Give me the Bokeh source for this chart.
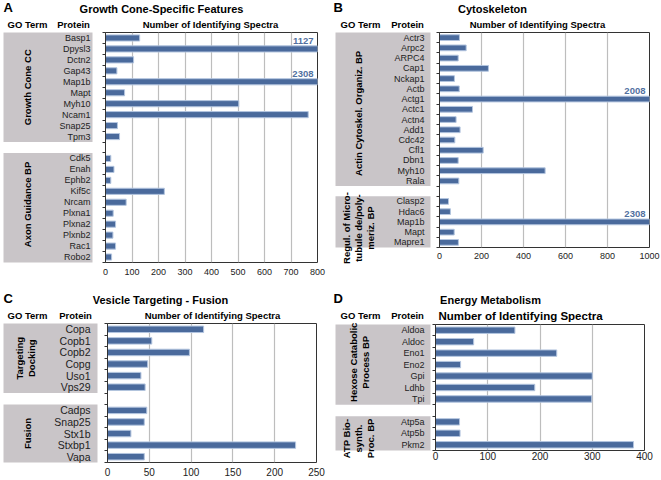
from bokeh.plotting import figure
from bokeh.layouts import row, column
from bokeh.models import Range1d, FixedTicker
from bokeh.embed import file_html
from bokeh.resources import INLINE
from bokeh.core.properties import value

# ---------------- DATA ----------------
# Panel A
A_letter = "A"
A_title = "Growth Cone-Specific Features"
A_group_labels = ["Growth Cone CC", "Axon Guidance BP"]
A_cc_proteins = ["Basp1", "Dpysl3", "Dctn2", "Gap43", "Map1b", "Mapt", "Myh10", "Ncam1", "Snap25", "Tpm3"]
A_cc_values = [129, 1127, 106, 43, 2308, 72, 503, 765, 45, 53]
A_ag_proteins = ["Cdk5", "Enah", "Ephb2", "Kif5c", "Nrcam", "Plxna1", "Plxna2", "Plxnb2", "Rac1", "Robo2"]
A_ag_values = [20, 32, 20, 222, 78, 29, 38, 28, 38, 23]
A_ticks = [0, 100, 200, 300, 400, 500, 600, 700, 800]

# Panel B
B_letter = "B"
B_title = "Cytoskeleton"
B_group_labels = ["Actin Cytoskel. Organiz. BP", "Regul. of Micro-\ntubule de/poly-\nmeriz. BP"]
B_actin_proteins = ["Actr3", "Arpc2", "ARPC4", "Cap1", "Nckap1", "Actb", "Actg1", "Actc1", "Actn4",
                    "Add1", "Cdc42", "Cfl1", "Dbn1", "Myh10", "Rala"]
B_actin_values = [95, 127, 89, 233, 71, 94, 2008, 157, 79, 98, 73, 208, 89, 503, 92]
B_mt_proteins = ["Clasp2", "Hdac6", "Map1b", "Mapt", "Mapre1"]
B_mt_values = [43, 52, 2308, 70, 90]
B_ticks = [0, 200, 400, 600, 800, 1000]

# Panel C
C_letter = "C"
C_title = "Vesicle Targeting - Fusion"
C_group_labels = ["Targeting\nDocking", "Fusion"]
C_td_proteins = ["Copa", "Copb1", "Copb2", "Copg", "Uso1", "Vps29"]
C_td_values = [115, 53, 98, 48, 40, 45]
C_fu_proteins = ["Cadps", "Snap25", "Stx1b", "Stxbp1", "Vapa"]
C_fu_values = [47, 44, 28, 225, 44]
C_ticks = [0, 50, 100, 150, 200, 250]

# Panel D
D_letter = "D"
D_title = "Energy Metabolism"
D_group_labels = ["Hexose Catabolic\nProcess BP", "ATP Bio-\nsynth.\nProc. BP"]
D_hx_proteins = ["Aldoa", "Aldoc", "Eno1", "Eno2", "Gpi", "Ldhb", "Tpi"]
D_hx_values = [152, 73, 232, 48, 300, 190, 299]
D_atp_proteins = ["Atp5a", "Atp5b", "Pkm2"]
D_atp_values = [46, 47, 379]
D_ticks = [0, 100, 200, 300, 400]

HEAD_GO = "GO Term"
HEAD_PROT = "Protein"
HEAD_NUM = "Number of Identifying Spectra"

# ---------------- STYLE ----------------
FONT = "Liberation Sans"
BAR = "#4A6A9C"
BAR_EDGE = "#B3C5DF"
GRAY = "#C9C5C8"
GRID = "#BDBDBD"
VAL_COLOR = "#52719F"


def bare(fig):
    fig.grid.visible = False
    fig.outline_line_color = None
    return fig


def build_rows(groups):
    prots, vals, ys, spans = [], [], [], []
    i = 0
    for gi, (prot_list, val_list) in enumerate(groups):
        if gi > 0:
            i += 1
        start = i
        for pr, v in zip(prot_list, val_list):
            prots.append(pr)
            vals.append(v)
            ys.append(i)
            i += 1
        spans.append((start, i - 1))
    return prots, vals, ys, spans, i


def make_panel(letter, title, group_labels, groups, ticks, st):
    prots, vals, ys, spans, n = build_rows(groups)
    xmax = ticks[-1]
    W = st["lw"] + st["bw"]
    hh = st["hh"]

    # header strip
    h = figure(width=W, height=hh, x_range=Range1d(0, W), y_range=Range1d(hh, 0),
               x_axis_location=None, y_axis_location=None, min_border=0,
               output_backend="svg", toolbar_location=None, frame_align=False)
    bare(h)
    h.text(x=[st["let_x"]], y=[st["let_y"]], text=[letter], text_align="left", text_baseline="middle",
           text_font=value(FONT), text_font_style="bold", text_font_size="13px", text_color="black")
    h.text(x=[st["tit_x"]], y=[st["tit_y"]], text=[title], text_align="center", text_baseline="middle",
           text_font=value(FONT), text_font_style="bold", text_font_size="11px", text_color="black")
    h.text(x=[st["go_x"], st["pr_x"]], y=[st["hd_y"], st["hd_y"]], text=[HEAD_GO, HEAD_PROT],
           text_align="center", text_baseline="middle",
           text_font=value(FONT), text_font_style="bold", text_font_size="9.5px", text_color="black")
    h.text(x=[st["num_x"]], y=[st["hd_y"]], text=[HEAD_NUM], text_align="center", text_baseline="middle",
           text_font=value(FONT), text_font_style="bold", text_font_size=st["num_fs"], text_color="black")

    # bar figure
    b = figure(width=st["bw"], height=st["ph"], x_range=Range1d(0, xmax), y_range=Range1d(n - 0.5, -0.5),
               min_border_left=st["bl"], min_border_right=st["br"], min_border_top=st["bt"],
               min_border_bottom=st["bb"], output_backend="svg", toolbar_location=None, frame_align=False)
    b.hbar(y=ys, left=0, right=vals, height=0.56, fill_color=BAR, line_color=BAR_EDGE, line_width=1)
    xa = b.xaxis[0]
    xa.ticker = FixedTicker(ticks=ticks)
    xa.axis_line_color = None
    xa.major_tick_line_color = None
    xa.major_tick_out = 0
    xa.major_tick_in = 0
    xa.minor_tick_line_color = None
    xa.major_label_text_font = FONT
    xa.major_label_text_font_size = st["tick_fs"]
    xa.major_label_text_color = "#222222"
    xa.major_label_standoff = st["standoff"]
    ya = b.yaxis[0]
    bticks = [k - 0.5 for k in range(n + 1)]
    ya.ticker = FixedTicker(ticks=bticks)
    ya.major_label_overrides = {t: "" for t in bticks}
    ya.major_label_standoff = 0
    ya.major_tick_in = 0
    ya.major_tick_out = 3
    ya.minor_tick_line_color = None
    ya.axis_line_color = "#333333"
    ya.major_tick_line_color = "#333333"
    b.xgrid.ticker = FixedTicker(ticks=ticks)
    b.xgrid.grid_line_color = GRID
    b.xgrid.grid_line_width = 1.2
    b.ygrid.grid_line_color = None
    b.outline_line_color = "#333333"

    over = [(y, v) for y, v in zip(ys, vals) if v > xmax]
    if over:
        b.text(x=[xmax] * len(over), y=[y - 0.75 for y, _ in over], text=[str(v) for _, v in over],
               text_align="right", text_baseline="middle", x_offset=-4,
               text_font=value(FONT), text_font_style="bold", text_font_size="9.5px", text_color=VAL_COLOR)

    # label figure: full-height frame, same rows-per-pixel as the bar frame
    rpp = n / (st["ph"] - st["bt"] - st["bb"])
    l_range = Range1d(n - 0.5 + st["bb"] * rpp, -0.5 - st["bt"] * rpp)
    l = figure(width=st["lw"], height=st["ph"], x_range=Range1d(0, st["lw"]), y_range=l_range,
               x_axis_location=None, y_axis_location=None, min_border=0,
               output_backend="svg", toolbar_location=None, frame_align=False)
    bare(l)
    l.quad(left=st["box_l"], right=st["box_r"], top=[s - 0.5 for s, e in spans],
           bottom=[e + 0.5 for s, e in spans], fill_color=GRAY, line_color=None)
    l.text(x=st["prot_x"], y=ys, text=prots, text_align="right", text_baseline="middle",
           text_font=value(FONT), text_font_size=st["prot_fs"], text_color="#222222")
    l.text(x=st["grp_x"], y=[(s + e) / 2 + d for (s, e), d in zip(spans, st["grp_dy"])],
           text=group_labels, angle=90, angle_units="deg",
           text_align="center", text_baseline="middle", text_line_height=1.1,
           text_font=value(FONT), text_font_style="bold", text_font_size="9.5px", text_color="black")

    return column(h, row(l, b))


A_st = dict(lw=100, bw=230, hh=30, ph=255, bl=5, br=13, bt=2, bb=23,
            let_x=3, let_y=7, tit_x=161, tit_y=8, go_x=27, pr_x=73, num_x=210, hd_y=24, num_fs="9.5px",
            tick_fs="9px", standoff=6, box_l=3, box_r=92, prot_x=90, prot_fs="9px",
            grp_x=[27, 27], grp_dy=[0, -0.3])
B_st = dict(lw=105, bw=226, hh=30, ph=255, bl=4, br=12, bt=2, bb=38,
            let_x=3, let_y=7, tit_x=162, tit_y=8, go_x=30, pr_x=77, num_x=207, hd_y=24, num_fs="9.5px",
            tick_fs="9px", standoff=5, box_l=5, box_r=100, prot_x=94, prot_fs="9px",
            grp_x=[28, 28], grp_dy=[0.4, 0.6])
C_st = dict(lw=102, bw=228, hh=37, ph=158, bl=5, br=14, bt=1, bb=18,
            let_x=3, let_y=13, tit_x=160, tit_y=14, go_x=27, pr_x=75, num_x=212, hd_y=30, num_fs="9.5px",
            tick_fs="10px", standoff=5, box_l=3, box_r=97, prot_x=90, prot_fs="10.5px",
            grp_x=[25, 27], grp_dy=[0, 0])
D_st = dict(lw=101, bw=230, hh=37, ph=158, bl=4, br=17, bt=2, bb=30,
            let_x=3, let_y=13, tit_x=160, tit_y=14, go_x=30, pr_x=77, num_x=190, hd_y=30, num_fs="11.5px",
            tick_fs="10px", standoff=1, box_l=5, box_r=100, prot_x=94, prot_fs="9px",
            grp_x=[29, 28], grp_dy=[-0.2, 0.45])

pA = make_panel(A_letter, A_title, A_group_labels,
                [(A_cc_proteins, A_cc_values), (A_ag_proteins, A_ag_values)], A_ticks, A_st)
pB = make_panel(B_letter, B_title, B_group_labels,
                [(B_actin_proteins, B_actin_values), (B_mt_proteins, B_mt_values)], B_ticks, B_st)
pC = make_panel(C_letter, C_title, C_group_labels,
                [(C_td_proteins, C_td_values), (C_fu_proteins, C_fu_values)], C_ticks, C_st)
pD = make_panel(D_letter, D_title, D_group_labels,
                [(D_hx_proteins, D_hx_values), (D_atp_proteins, D_atp_values)], D_ticks, D_st)

root = column(row(pA, pB), row(pC, pD))

open("out.html", "w").write(file_html(root, INLINE))
